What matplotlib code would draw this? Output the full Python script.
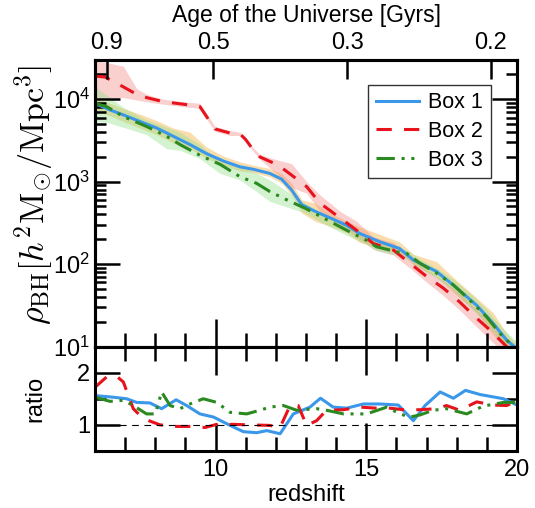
#!/usr/bin/env python

import numpy as np
from matplotlib import pyplot as plt
from matplotlib.ticker import FixedLocator, MultipleLocator, NullFormatter

plt.rcParams['font.family'] = ['Liberation Sans', 'DejaVu Sans']
plt.rcParams['mathtext.fontset'] = 'cm'

# main panel, log10(rho_BH)
z1 = [6.0, 6.5, 6.94, 7.49, 8.05, 8.6, 9.15, 9.7, 10.26, 10.81, 11.25, 11.8, 12.19, 12.52,
      12.86, 13.3, 13.8, 14.35, 14.79, 15.45, 16.1, 16.56, 17.33, 18.0, 18.66, 19.21, 19.65, 20.0]
l1 = [3.95, 3.87, 3.81, 3.73, 3.65, 3.55, 3.45, 3.34, 3.25, 3.18, 3.15, 3.10, 3.03, 2.90,
      2.72, 2.64, 2.56, 2.47, 2.37, 2.27, 2.19, 2.05, 1.91, 1.71, 1.50, 1.28, 1.08, 0.97]
l1_hi = [4.02, 3.95, 3.89, 3.82, 3.74, 3.65, 3.60, 3.42, 3.31, 3.24, 3.20, 3.16, 3.10, 2.98,
         2.78, 2.74, 2.62, 2.52, 2.45, 2.36, 2.27, 2.12, 2.03, 1.80, 1.59, 1.41, 1.16, 1.02]
l1_lo = [3.86, 3.80, 3.73, 3.65, 3.57, 3.47, 3.40, 3.28, 3.20, 3.13, 3.11, 3.06, 2.98, 2.84,
         2.62, 2.52, 2.46, 2.38, 2.26, 2.20, 2.15, 1.99, 1.85, 1.62, 1.41, 1.14, 0.96, 0.88]

z2 = [6.0, 6.33, 6.94, 7.38, 7.71, 8.27, 8.93, 9.48, 9.70, 9.98, 10.48, 10.81, 11.0, 11.2,
      11.47, 12.08, 12.52, 13.02, 13.46, 14.13, 14.68, 15.23, 15.9, 16.45, 17.0, 17.55, 18.1,
      18.55, 19.1, 19.6, 20.0]
l2 = [4.28, 4.27, 4.15, 4.06, 4.02, 3.97, 3.94, 3.91, 3.79, 3.64, 3.59, 3.58, 3.51, 3.41,
      3.30, 3.20, 3.08, 2.94, 2.74, 2.56, 2.41, 2.25, 2.17, 2.01, 1.85, 1.71, 1.54,
      1.38, 1.20, 1.02, 0.85]
l2_hi = [4.46, 4.45, 4.40, 4.13, 4.06, 4.00, 3.97, 3.95, 3.83, 3.67, 3.62, 3.60, 3.53, 3.43,
         3.33, 3.26, 3.22, 3.00, 2.84, 2.64, 2.52, 2.33, 2.26, 2.09, 1.93, 1.80, 1.65,
         1.49, 1.30, 1.10, 0.95]
l2_lo = [4.00, 4.02, 4.02, 3.99, 3.97, 3.94, 3.91, 3.89, 3.76, 3.61, 3.56, 3.56, 3.49, 3.39,
         3.27, 3.08, 2.93, 2.86, 2.64, 2.48, 2.33, 2.18, 2.11, 1.95, 1.78, 1.62, 1.44,
         1.28, 1.08, 0.92, 0.75]

z3 = [6.0, 6.39, 6.94, 7.71, 8.38, 8.82, 9.48, 10.15, 10.81, 11.36, 11.8, 12.47, 12.96, 13.68,
      14.35, 15.0, 15.34, 16.0, 16.34, 16.78, 17.33, 17.88, 18.44, 18.99, 19.43, 19.87, 20.0]
l3 = [3.95, 3.91, 3.79, 3.67, 3.55, 3.45, 3.32, 3.21, 3.06, 2.98, 2.88, 2.76, 2.68, 2.54,
      2.41, 2.29, 2.21, 2.15, 2.13, 2.01, 1.89, 1.75, 1.56, 1.36, 1.16, 1.00, 0.96]
l3_hi = [4.15, 4.05, 3.90, 3.75, 3.66, 3.60, 3.45, 3.24, 3.20, 3.10, 3.02, 2.86, 2.74, 2.59,
         2.47, 2.36, 2.28, 2.21, 2.17, 2.06, 1.95, 1.82, 1.65, 1.45, 1.26, 1.10, 1.06]
l3_lo = [3.73, 3.72, 3.66, 3.57, 3.40, 3.38, 3.28, 3.10, 3.02, 2.88, 2.76, 2.68, 2.62, 2.47,
         2.35, 2.24, 2.16, 2.11, 2.07, 1.95, 1.83, 1.68, 1.48, 1.28, 1.08, 0.96, 0.94]

# ratio panel
zr1 = [6.0, 6.6, 7.05, 7.38, 7.82, 8.21, 8.69, 9.04, 9.48, 9.93, 10.48, 10.92, 11.36, 11.7,
       12.14, 12.58, 13.13, 13.48, 13.9, 14.35, 14.9, 15.45, 16.06, 16.56, 16.95, 17.45,
       17.89, 18.29, 18.78, 19.55, 20.0]
r1 = [1.56, 1.53, 1.50, 1.43, 1.42, 1.31, 1.48, 1.37, 1.21, 1.15, 0.99, 0.87, 0.85, 0.89,
      0.83, 1.21, 1.34, 1.51, 1.34, 1.32, 1.40, 1.40, 1.38, 1.08, 1.37, 1.63,
      1.51, 1.66, 1.58, 1.50, 1.38]

zr2 = [6.0, 6.39, 6.72, 6.94, 7.27, 7.6, 8.16, 8.71, 9.26, 9.65, 10.04, 10.59, 11.14, 11.8,
       12.14, 12.47, 12.74, 13.02, 13.35, 13.68, 14.24, 14.79, 15.34, 15.78, 16.23, 16.78,
       17.33, 17.66, 18.1, 18.66, 19.21, 19.65, 20.0]
r2 = [1.72, 1.92, 1.93, 1.82, 1.31, 1.12, 1.00, 0.97, 0.97, 0.95, 1.01, 1.01, 1.00, 0.99,
      0.95, 1.37, 1.37, 0.99, 1.08, 1.28, 1.29, 1.34, 1.32, 1.32, 1.29, 1.29,
      1.31, 1.37, 1.28, 1.44, 1.38, 1.37, 1.45]

zr3 = [6.0, 6.5, 6.94, 7.27, 7.71, 8.0, 8.21, 8.49, 8.82, 9.15, 9.59, 10.04, 10.48, 11.03,
       11.47, 11.8, 12.25, 12.69, 13.35, 13.68, 14.24, 15.01, 15.68, 16.12, 16.45, 16.78,
       17.22, 17.66, 18.33, 18.88, 19.55, 20.0]
r3 = [1.53, 1.45, 1.47, 1.37, 1.21, 1.21, 1.63, 1.37, 1.31, 1.40, 1.50, 1.43, 1.24, 1.21,
      1.28, 1.34, 1.37, 1.28, 1.31, 1.28, 1.21, 1.21, 1.34, 1.21, 1.15, 1.19,
      1.28, 1.31, 1.21, 1.36, 1.43, 1.43]

ages = [0.9, 0.5, 0.3, 0.2]
age_labels = ['0.9', '0.5', '0.3', '0.2']

BLUE = '#3a97ea'
RED = '#e8121c'
GREEN = '#2a8a1f'
DASH2 = (0, (5, 4))
DASH3 = (0, (6, 2.2, 1, 2.2, 1, 2.2))


def age_to_z(age):
    # matter dominated approximation, t ~ (1+z)^-1.5
    return (18.06 / np.asarray(age)) ** (2.0 / 3.0) - 1.0


def style(ax):
    for s in ax.spines.values():
        s.set_linewidth(2.2)
    ax.tick_params(which='both', direction='in', width=1.8, labelsize=17)
    ax.tick_params(which='major', length=10)
    ax.tick_params(which='minor', length=5)


def main():
    fig = plt.figure(figsize=(5.35, 5.08), dpi=100)
    ax = fig.add_axes([0.1776, 0.3179, 0.7888, 0.5646])
    axr = fig.add_axes([0.1776, 0.1122, 0.7888, 0.2057], sharex=ax)

    ax.fill_between(z1, 10 ** np.array(l1_lo), 10 ** np.array(l1_hi),
                    color='#f5b547', alpha=0.45, lw=0)
    ax.fill_between(z2, 10 ** np.array(l2_lo), 10 ** np.array(l2_hi),
                    color='#f08a86', alpha=0.4, lw=0)
    ax.fill_between(z3, 10 ** np.array(l3_lo), 10 ** np.array(l3_hi),
                    color='#8fe08a', alpha=0.4, lw=0)

    ax.plot(z1, 10 ** np.array(l1), color=BLUE, lw=2.2, label='Box 1')
    ax.plot(z2, 10 ** np.array(l2), color=RED, lw=2.2, ls=DASH2, label='Box 2')
    ax.plot(z3, 10 ** np.array(l3), color=GREEN, lw=2.2, ls=DASH3, label='Box 3')

    ax.set_yscale('log')
    ax.set_xlim(6, 20)
    ax.set_ylim(10, 10 ** 4.48)
    ax.set_yticks([10, 100, 1000, 10000])
    ax.set_yticklabels([r'$\mathregular{10^{%d}}$' % p for p in (1, 2, 3, 4)])
    ax.yaxis.set_minor_formatter(NullFormatter())
    ax.xaxis.set_major_locator(MultipleLocator(5))
    ax.xaxis.set_minor_locator(MultipleLocator(1))
    style(ax)
    ax.tick_params(axis='x', which='both', bottom=True, top=False, labelbottom=False)
    ax.tick_params(axis='y', which='both', left=True, right=True)
    ax.tick_params(axis='y', which='major', length=18)
    ax.tick_params(axis='y', which='minor', length=8)
    ax.tick_params(axis='x', which='major', length=20)
    ax.tick_params(axis='x', which='minor', length=10)
    ax.set_ylabel(r'$\rho_{\rm BH}[h^2{\rm M}_{\odot}/{\rm Mpc}^3]$', fontsize=24.5)
    ax.yaxis.set_label_coords(-0.095, 0.53)

    leg = ax.legend(loc='upper right', bbox_to_anchor=(0.938, 0.912), borderaxespad=0,
                    fontsize=15.5, fancybox=False, edgecolor='#333333', framealpha=1,
                    handlelength=2.0, handletextpad=0.45, borderpad=0.35,
                    labelspacing=0.35)
    leg.get_frame().set_linewidth(1.0)

    top = ax.twiny()
    top.set_xlim(6, 20)
    top.xaxis.set_major_locator(FixedLocator(age_to_z(ages)))
    top.set_xticklabels(age_labels)
    top.xaxis.set_minor_locator(FixedLocator([]))
    style(top)
    top.tick_params(axis='x', length=14, pad=4)
    top.set_xlabel('Age of the Universe [Gyrs]', fontsize=16.5, labelpad=7)

    axr.plot(zr1, r1, color=BLUE, lw=2.2)
    axr.plot(zr2, r2, color=RED, lw=2.2, ls=DASH2)
    axr.plot(zr3, r3, color=GREEN, lw=2.2, ls=DASH3)
    axr.axhline(1.0, color='black', lw=0.8, ls=(0, (6, 5)))

    axr.set_ylim(0.5, 2.5)
    axr.set_yticks([1, 2])
    axr.yaxis.set_minor_locator(FixedLocator([1.5]))
    axr.xaxis.set_major_locator(MultipleLocator(5))
    axr.xaxis.set_minor_locator(MultipleLocator(1))
    style(axr)
    axr.tick_params(which='both', top=True, right=True)
    axr.tick_params(axis='y', which='major', length=18)
    axr.tick_params(axis='y', which='minor', length=8)
    axr.tick_params(axis='x', which='major', length=20, pad=6)
    axr.tick_params(axis='x', which='minor', length=10)
    axr.set_xlabel('redshift', fontsize=17, labelpad=2)
    axr.set_ylabel('ratio', fontsize=17)
    axr.yaxis.set_label_coords(-0.115, 0.5)

    fig.savefig('out.png', dpi=100)


if __name__ == '__main__':
    main()
